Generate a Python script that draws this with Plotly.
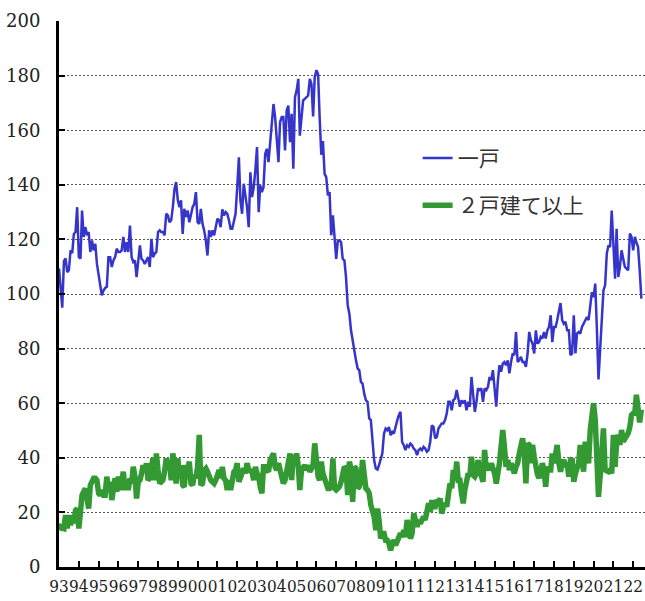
import pandas as pd
import plotly.graph_objects as go

# Monthly series starting January 1993 (unit: 10,000 units, SAAR)
start_month = "1993-01-01"

single_family = [
    109.3, 102, 95, 112, 113, 108, 108.7, 116, 115, 122,
    122.7, 131.8, 113.5, 113, 130.6, 120.9, 124.5, 121.5, 122.7, 115.4,
    119.6, 116, 118.4, 111, 107.4, 103.8, 99.5, 101.3, 102.2, 102.6,
    113.5, 113.5, 109.9, 112.3, 113.5, 116.6, 115.4, 115.4, 116, 120.9,
    115.4, 119, 115.4, 125.1, 113.5, 111.7, 112.3, 106.2, 112.3, 117.8,
    112.9, 112.3, 111, 112.3, 113.5, 109.9, 120.2, 113.5, 114.8, 115.4,
    122.7, 123.3, 122.7, 122.7, 121.5, 129.4, 128.8, 126.3, 127, 131.8,
    138.5, 141, 134.3, 131.8, 134.3, 122, 131.2, 128.2, 130.6, 126.3,
    129.4, 131.8, 133, 137.3, 126.3, 125.7, 131.2, 125.7, 123.3, 119.6,
    114.1, 123.3, 120.9, 123.3, 121.5, 124.5, 127.6, 127, 124.5, 131,
    128.8, 130, 129.4, 127, 123.9, 123.9, 126.3, 129.4, 139.1, 150.1,
    134.3, 129.4, 140.4, 136.7, 131.8, 124.5, 144.6, 135.5, 139,
    145.2, 153.8, 130, 139.8, 137.3, 139.1, 151.3, 153.2, 148.3, 155,
    161.7, 169.6, 164.8, 156.2, 148.3, 162.9, 164.8, 164.8, 152.6, 167.2,
    169, 155.6, 166, 145.9, 172.1, 174.5, 178.8, 158, 164.8, 170.9,
    171.5, 172.1, 172.7,
    178.8, 177, 165, 179.4, 182, 180.6, 165, 151, 156, 144,
    142.8, 136.1, 137.3, 121.5, 128.8, 122.1, 112.9, 119.6, 119.6, 119,
    112.9, 112.3, 106.2, 95.9, 92.8, 86.7, 82.4, 78.2, 75.7, 72.7,
    72.1, 67.8, 67.2, 63.5, 61.1, 60.5, 54.4, 53.8, 45.2, 39.1,
    36.1, 35.7, 37.3, 39.8, 41.6, 48.9, 50.7, 50.1, 51.3, 48.3,
    49.5, 48.9, 51.9, 53.8, 55.6, 56.8, 45.8, 44.6, 42.8, 44.6,
    44, 45.2, 44.6, 43.4, 42.8, 41, 42.8, 43.4, 42.8, 44,
    43.4, 42.2, 42.8, 45.8, 51.9, 51.3, 47.1, 47.7, 50.7, 51.9,
    52.6, 52.6, 53.8, 56.2, 60.5,
    60.5, 57.4, 61.1, 61.7, 64.8, 61.1, 58.7, 61.1, 59.9, 61.1,
    57.4, 60.5, 58.7, 69.6, 63.5, 56.8, 60.5, 65.4, 64.8, 65.4,
    60.5, 65.4, 64.8, 66, 69.6, 68.4, 72.1, 66, 58.7, 67.8,
    73.9, 71.5, 74.5, 75.1, 73.9, 75.7, 70.9, 75.1, 78.2, 77.6,
    86.1, 75.1, 75.7, 77, 75.1, 75.1, 73.3, 78.2, 86.1, 83.1,
    81.8, 78.2, 86.7, 81.8, 82.4, 84.3, 83.7, 86.1, 83.7, 86.7,
    87.9, 92.2, 82.4, 87.9, 87.9, 90.4, 93.4, 96.7, 90.4, 89.1,
    89.8, 86.7, 86.7, 77.6, 78.2, 92.2, 78.2, 85.5, 86.1, 85.5,
    87.9, 89.1, 90.4, 91.6, 90.4, 96.5, 100.7, 98.9, 103.8, 88,
    68.7,
    79.4, 92.8, 101.3, 103.2, 114.8, 117.8, 117.2, 130.6, 115.4, 105.6,
    123.9, 106.2, 109.9, 116, 112.9, 109.9, 109.3, 108.7, 122.1, 120.9,
    116, 120.9, 119, 117.2, 108.7, 98.3,
]

multi_family = [
    13.5, 14.7, 14.3, 14.1, 19, 14.1, 19, 15.3, 19, 16,
    20.8, 21.4, 14.1, 25.1, 26.3, 27.6, 28.8, 25.1, 21.4, 30,
    31.2, 32.5, 32.5, 31.8, 27, 26.3, 28.2, 26.3, 26.3, 33.1,
    28.8, 31.2, 24.5, 30.6, 32.5, 27.6, 33.1, 28.2, 33.7, 34.9,
    28.2, 31.2, 28.2, 32.5, 30.6, 36.7, 33.1, 25.1, 31.2, 31.8,
    34,
    37.3, 34.9, 38, 31.8, 32.5, 36.7, 39.8, 31.8, 41.6, 35.5,
    30.6, 31.2, 31.8, 34.9, 39.8, 36.7, 39.2, 31.8, 41.6, 36.1,
    30.6, 39.8, 33.1, 37.3, 30, 29.4, 37.3, 35.5, 38.6, 30.6,
    30, 33.7, 32.5, 36.7, 48.4, 30, 30.6, 35.5, 36.1, 34.9,
    33.1, 31.8, 31.2, 30.6, 31.8, 34.9, 35.5, 32.5, 36.7, 32.5,
    31.8, 28.2, 31.8, 28.2, 32.5, 34.9, 35.5, 38, 31.2, 33.1,
    34.9, 36.1, 34.3, 38, 35.5, 34.9, 34.9, 31.8, 36.7, 34.3,
    33.1, 29.4, 27, 36.7, 36.7, 35.5, 34.9, 39.2, 41, 41.6,
    36.7, 35.5, 38, 35.5, 34.3, 30.6, 31.8, 35.5, 39.8, 41.6,
    31.8, 41, 38.6, 41.6, 36.7, 28.2, 35.5, 36.7, 37.3, 35.5,
    37.3, 34.9, 36.7, 37.3, 45.3, 37.3, 33.1, 31.8, 38.6, 34.3,
    31.2, 30.6, 28.8, 28.8, 29.4, 39.8, 28.8, 28.2, 28.8,
    29.4, 31.2, 33.1, 36.7, 36.1, 26.3, 38.6, 36.1, 23.9, 36.7,
    36.1, 28.8, 29.4, 31.8, 39.2, 33.7, 28.8, 28.2, 27, 22.7,
    20.5,
    18.4, 13.5, 21.4, 17.2, 10.4, 12.3, 12.3, 9.8, 9.8, 8.6,
    6.1, 8.6, 9.8, 8, 9.8, 11, 12.3, 11, 13.5, 11,
    17.2, 14.7, 10.4, 12.3, 19.6, 17.2, 14.7, 17.2, 15.9, 17.2,
    18.4, 17.2, 22.1, 23.3, 20.2, 24.5, 22.1, 22.1, 24.5, 23.9,
    25.1, 19.6, 22.1, 23.3, 22.1, 26.3, 30.6, 28.8, 35.5, 31.8,
    38.6, 31.8, 31.8, 27, 23.3, 28.2, 33.1, 34.3, 33.1, 40.4,
    33.7, 33.1, 34.3, 39.2, 35.5, 33.1, 31.2, 42.9, 35.5, 36.7,
    35.5, 38, 36.7, 34.3, 30.6, 36.7, 38, 44.1, 50.2, 44.1,
    36.7, 39.2, 35.5, 38, 35.5, 34.3, 36.7, 38, 41.6, 44.1,
    47.1, 42.3, 30.6, 45.3, 44.7, 38, 44.7, 40.4, 35.5,
    34,
    32.5, 36.1, 38, 35.5, 29.4, 36.7, 35.5, 35.5, 41.6, 38,
    43.5, 44.7, 38, 34.9, 38, 39.2, 36.7, 38, 33.1, 39.2,
    39.8, 31.2, 34.3, 35.5, 38, 44.7, 40.4, 34.9, 45.9, 42.3,
    38, 50.2, 56.3, 60, 53.9, 38, 25.7, 33.1, 41.6, 50.8,
    35.5, 34.9, 34.9, 35.5, 34.3, 48.4, 36.7, 45.3, 48.4, 44.7,
    50.2, 45.9, 47.1, 48.4, 49, 51.4, 55.7, 56.3, 56.3, 63.1,
    55.1, 53, 57.6,
]

years = list(range(1993, 2023))
year_labels = [f"{y % 100:02d}" for y in years]
series_names = ["一戸", "２戸建て以上"]

dates_single = pd.date_range(start_month, periods=len(single_family), freq="MS")
dates_multi = pd.date_range(start_month, periods=len(multi_family), freq="MS")

serif = "DejaVu Serif"
serif_narrow = "DejaVu Serif Condensed, DejaVu Serif"

fig = go.Figure()
fig.add_trace(go.Scatter(
    x=dates_single, y=single_family, mode="lines", name=series_names[0],
    line=dict(color="#3535CC", width=2.5), legendgroup="g1",
))
fig.add_trace(go.Scatter(
    x=dates_multi, y=multi_family, mode="lines", name=series_names[1],
    line=dict(color="#339933", width=5.5), legendgroup="g2",
))

fig.update_layout(
    width=645, height=601,
    margin=dict(l=59, r=0, t=21, b=34, autoexpand=False),
    paper_bgcolor="white", plot_bgcolor="white",
    showlegend=True,
    legend=dict(
        x=0.612, y=0.786, xanchor="left", yanchor="top",
        bgcolor="rgba(0,0,0,0)",
        font=dict(family="Noto Sans CJK JP", size=21, color="#333"),
        tracegroupgap=17,
    ),
    xaxis=dict(
        type="date",
        range=["1992-12-31", "2022-08-07"],
        tickvals=[f"{y}-01-01" for y in years],
        ticktext=year_labels,
        ticks="inside", ticklen=6, tickwidth=2, tickcolor="black",
        showline=True, linewidth=3, linecolor="black",
        showgrid=False, zeroline=False,
        tickfont=dict(family=serif_narrow, size=17, color="#222"),
        tickangle=0, automargin=False, ticklabelstandoff=2,
    ),
    yaxis=dict(
        range=[0, 200],
        tickvals=list(range(0, 201, 20)),
        ticks="inside", ticklen=6, tickwidth=2, tickcolor="black",
        showline=True, linewidth=3, linecolor="black",
        showgrid=True, gridcolor="#555", gridwidth=1, griddash="2px,2px",
        zeroline=False,
        tickfont=dict(family=serif, size=18, color="#222"),
        ticklabelstandoff=12, automargin=False,
    ),
)

fig.write_html(
    "out.html",
    config={"displayModeBar": False},
    post_script="document.body.style.margin='0';document.body.style.overflow='hidden';",
)
